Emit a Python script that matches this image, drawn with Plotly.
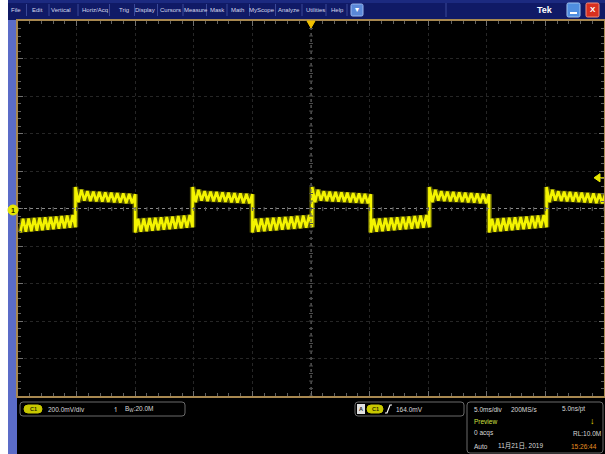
import plotly.graph_objects as go

W, H = 605, 454

# ---------------- data (read from the screen capture) ----------------
# edge times of the square wave (ms), segment levels between edges
EDGES_MS = [-24.8, -20.1, -15.0, -10.1, -5.0, 0.1, 5.1, 10.1, 15.2, 20.1, 25.1]
SEG_LEVEL = ["low", "high", "low", "high", "low", "high", "low", "high", "low", "high"]
# ripple vertices inside one half-period, as fraction of the segment
RIPPLE_FRAC = [0.00, 0.05, 0.10, 0.15, 0.20, 0.25, 0.30, 0.35, 0.40, 0.45, 0.50,
               0.55, 0.60, 0.65, 0.70, 0.75, 0.80, 0.85, 0.90, 0.95, 1.00]
HIGH_MV = [115, 34, 100, 42, 92, 40, 90, 38, 88, 37, 86, 35, 84, 33, 82, 31, 80, 29, 78, 27, 76]
LOW_MV = [-128, -55, -124, -53, -121, -51, -118, -49, -116, -47, -113, -45, -110, -43,
          -108, -40, -105, -38, -102, -35, -100]

MENU_ITEMS = ["File", "Edit", "Vertical", "Horiz/Acq", "Trig", "Display", "Cursors",
              "Measure", "Mask", "Math", "MyScope", "Analyze", "Utilities", "Help"]
MENU_X = [16, 37, 61, 95, 124, 145, 170, 196, 217, 237, 262, 289, 315, 337]

CH1_SCALE = "200.0mV/div"
CH1_BW = "B<sub>W</sub>:20.0M"
TRIG_LEVEL = "164.0mV"
TRIG_LEVEL_MV = 164
STATUS = ["5.0ms/div", "200MS/s", "5.0ns/pt", "Preview", "0 acqs", "RL:10.0M",
          "Auto", "11月21日, 2019", "15:26:44"]

# ---------------- build trace ----------------
x_ms, y_mv = [], []
for k in range(len(SEG_LEVEL)):
    t0, t1 = EDGES_MS[k], EDGES_MS[k + 1]
    pat = LOW_MV if SEG_LEVEL[k] == "low" else HIGH_MV
    for f, v in zip(RIPPLE_FRAC, pat):
        x_ms.append(t0 + f * (t1 - t0))
        y_mv.append(v)

def px(x):
    return x / W

def py(y):
    return 1 - y / H

PX0, PX1, PY0, PY1 = 18, 604, 21, 396  # graticule box in pixels

fig = go.Figure()
fig.add_trace(go.Scatter(x=x_ms, y=y_mv, mode="lines",
                         line=dict(color="rgba(235,235,0,0.4)", width=5.5),
                         hoverinfo="skip", showlegend=False))
fig.add_trace(go.Scatter(x=x_ms, y=y_mv, mode="lines",
                         line=dict(color="#f4f400", width=2.6),
                         hoverinfo="skip", showlegend=False))

shapes = []
ann = []

def rect(x0, y0, x1, y1, fill, line=None, lw=0, layer="below"):
    shapes.append(dict(type="rect", xref="paper", yref="paper",
                       x0=px(x0), x1=px(x1), y0=py(y1), y1=py(y0),
                       fillcolor=fill, line=dict(color=line or fill, width=lw),
                       layer=layer))

def rrect(x0, y0, x1, y1, r, fill, line, lw=1, layer="above"):
    p = (f"M {px(x0+r)},{py(y0)} L {px(x1-r)},{py(y0)} Q {px(x1)},{py(y0)} {px(x1)},{py(y0+r)} "
         f"L {px(x1)},{py(y1-r)} Q {px(x1)},{py(y1)} {px(x1-r)},{py(y1)} "
         f"L {px(x0+r)},{py(y1)} Q {px(x0)},{py(y1)} {px(x0)},{py(y1-r)} "
         f"L {px(x0)},{py(y0+r)} Q {px(x0)},{py(y0)} {px(x0+r)},{py(y0)} Z")
    shapes.append(dict(type="path", xref="paper", yref="paper", path=p,
                       fillcolor=fill, line=dict(color=line, width=lw), layer=layer))

def text(x, y, s, color="#d8d8d8", size=7, anchor="left", bold=False, fam=None):
    ann.append(dict(x=px(x), y=py(y), xref="paper", yref="paper", text=f"<b>{s}</b>" if bold else s,
                    showarrow=False, xanchor=anchor, yanchor="middle",
                    font=dict(color=color, size=size,
                              family=fam or "Liberation Sans, Noto Sans CJK SC, sans-serif")))

# chrome
rect(0, 0, 8, H, "#ffffff")
rect(8, 0, 17, H, "#5b6cc8")
rect(8, 0, W, 20, "#101a66")
rect(8, 0, W, 3, "#1c2a80")
for i, (name, xc) in enumerate(zip(MENU_ITEMS, MENU_X)):
    text(xc, 10, name, color="#d6d8ec", size=6, anchor="center")
    sep = xc + (MENU_X[i + 1] - xc) / 2 if i + 1 < len(MENU_X) else 347
    shapes.append(dict(type="line", xref="paper", yref="paper", x0=px(sep), x1=px(sep),
                       y0=py(4), y1=py(16), line=dict(color="#3a4898", width=1)))
rrect(351, 4, 363, 16, 1.5, "#5a88d8", "#9ab8f0", 1)
text(357, 10, "▾", color="#ffffff", size=8, anchor="center")
shapes.append(dict(type="line", xref="paper", yref="paper", x0=px(446), x1=px(446),
                   y0=py(3), y1=py(17), line=dict(color="#3a4898", width=1)))
text(545, 10, "Tek", color="#ffffff", size=9, anchor="center", bold=True)
rrect(567, 3, 580, 17, 1.5, "#4f8ee0", "#a0c4f0", 1)
shapes.append(dict(type="line", xref="paper", yref="paper", x0=px(570), x1=px(577),
                   y0=py(13), y1=py(13), line=dict(color="#ffffff", width=2)))
rrect(586, 3, 599, 17, 1.5, "#d83020", "#f09080", 1)
text(592.5, 10, "X", color="#ffffff", size=8, anchor="center", bold=True)

# graticule center lines with ticks
shapes.append(dict(type="line", xref="x", yref="paper", x0=0, x1=0, y0=py(PY1), y1=py(PY0),
                   line=dict(color="#6a6a6a", width=1, dash="dot")))
shapes.append(dict(type="line", xref="paper", yref="y", x0=px(PX0), x1=px(PX1), y0=0, y1=0,
                   line=dict(color="#8a8a8a", width=1, dash="dot")))
for t in range(-25, 26):
    shapes.append(dict(type="line", xref="x", yref="paper", x0=t, x1=t, y0=py(211), y1=py(207),
                       line=dict(color="#5a5a5a", width=1)))
for v in range(-1000, 1001, 40):
    shapes.append(dict(type="line", xref="paper", yref="y", x0=px(309), x1=px(313), y0=v, y1=v,
                       line=dict(color="#4a4a4a", width=1)))

# markers: ground, trigger position, trigger level
shapes.append(dict(type="circle", xref="paper", yref="paper", x0=px(8), x1=px(18),
                   y0=py(215), y1=py(205), fillcolor="#e8e800", line=dict(color="#e8e800", width=1)))
text(13, 210, "1", color="#202000", size=7, anchor="center", bold=True)
shapes.append(dict(type="path", xref="paper", yref="paper",
                   path=f"M {px(307)},{py(21)} L {px(315)},{py(21)} L {px(311)},{py(28)} Z",
                   fillcolor="#f0c000", line=dict(color="#f0c000", width=1)))
shapes.append(dict(type="path", xref="paper", yref="y",
                   path=f"M {px(594)},{TRIG_LEVEL_MV} L {px(600)},{TRIG_LEVEL_MV+22} L {px(600)},{TRIG_LEVEL_MV-22} Z",
                   fillcolor="#e8e800", line=dict(color="#e8e800", width=1)))
shapes.append(dict(type="line", xref="paper", yref="y", x0=px(599), x1=px(604),
                   y0=TRIG_LEVEL_MV, y1=TRIG_LEVEL_MV, line=dict(color="#e8e800", width=1)))

# bottom panel boxes
rrect(20, 402, 185, 416, 3, "#000000", "#6a6a6a", 1)
rrect(24, 405, 42, 413, 4, "#c8c800", "#c8c800", 1)
text(33, 409, "C1", color="#303000", size=5.5, anchor="center", bold=True)
text(46, 409, CH1_SCALE, size=6.5)
text(116, 409, "↿", size=7, anchor="center")
text(123, 409, CH1_BW, size=6.5)

rrect(355, 402, 464, 416, 3, "#000000", "#6a6a6a", 1)
rect(357, 404, 365, 414, "#e0e0e0", layer="above")
text(361, 409, "A", color="#202020", size=5.5, anchor="center", bold=True)
rrect(367, 405, 383, 413, 4, "#c8c800", "#c8c800", 1)
text(375, 409, "C1", color="#303000", size=5.5, anchor="center", bold=True)
shapes.append(dict(type="path", xref="paper", yref="paper",
                   path=f"M {px(385)},{py(413)} L {px(387)},{py(413)} L {px(390)},{py(405)} L {px(392)},{py(405)}",
                   line=dict(color="#ffffff", width=1.2)))
text(394, 409, TRIG_LEVEL, size=6.5)

rrect(467, 402, 603, 453, 3, "#000000", "#6a6a6a", 1)
text(472, 409, STATUS[0], size=6.5)
text(509, 409, STATUS[1], size=6.5)
text(560, 409, STATUS[2], size=6.5)
text(472, 421, STATUS[3], color="#d0e040", size=6.5)
text(592, 421, "↓", color="#f0e000", size=9, anchor="center", bold=True)
text(472, 433, STATUS[4], size=6.5)
text(571, 433, STATUS[5], size=6.5)
text(472, 446, STATUS[6], size=6.5)
text(496, 446, STATUS[7], size=6.5)
text(569, 446, STATUS[8], color="#e89020", size=6.5)

axis_common = dict(showticklabels=False, zeroline=False, showline=True, mirror="ticks",
                   linecolor="#a88850", linewidth=2, ticks="inside", ticklen=5,
                   tickcolor="#707070", griddash="dot", gridcolor="#262626", gridwidth=1)

fig.update_layout(
    width=W, height=H, autosize=False,
    margin=dict(l=0, r=0, t=0, b=0, pad=0),
    paper_bgcolor="#000000", plot_bgcolor="#000000",
    showlegend=False,
    xaxis=dict(range=[-25, 25], dtick=5, domain=[px(PX0), px(PX1)],
               minor=dict(dtick=1, ticks="inside", ticklen=3, tickcolor="#606060", showgrid=False),
               **axis_common),
    yaxis=dict(range=[-1000, 1000], dtick=200, domain=[py(PY1), py(PY0)],
               minor=dict(dtick=40, ticks="inside", ticklen=3, tickcolor="#606060", showgrid=False),
               **axis_common),
    shapes=shapes, annotations=ann,
)

fig.write_html("out.html", config={"displayModeBar": False},
               post_script="document.body.style.margin='0';document.body.style.overflow='hidden';")
